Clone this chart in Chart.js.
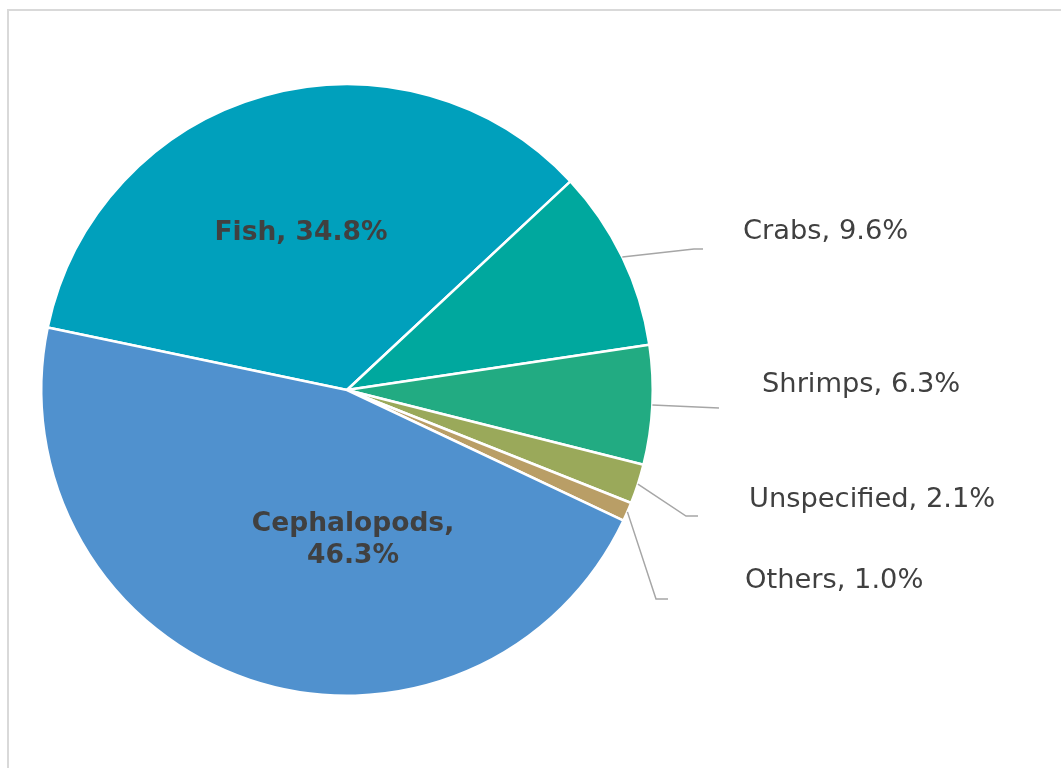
<!DOCTYPE html>
<html>
<head>
<meta charset="utf-8">
<script src="https://cdn.jsdelivr.net/npm/chart.js@4"></script>
<style>
  html, body { margin: 0; padding: 0; background: #ffffff; overflow: hidden; }
  #frame { position: absolute; left: 7px; top: 9px; width: 1100px; height: 800px; border: 2px solid #d9d9d9; box-sizing: border-box; }
  #wrap { position: absolute; left: 0; top: 0; width: 1061px; height: 768px; }
</style>
</head>
<body>
<div id="frame"></div>
<div id="wrap"><canvas id="c" width="1061" height="768"></canvas></div>
<script>
// ---- data ----
const categories = ["Fish", "Crabs", "Shrimps", "Unspecified", "Others", "Cephalopods"];
const shares = [34.8, 9.6, 6.3, 2.1, 1.0, 46.3];
const sliceColors = ["#00A0BC", "#00A89E", "#22AB82", "#9AA95A", "#B99E66", "#5091CE"];

// ---- label layout (offsets from pie centre, px) ----
const outsideLabels = {
  1: { elbow: [347, -141], end: [356, -141], text: [396, -151] },
  2: { elbow: [372, 18], end: [372, 18], text: [415, 2] },
  3: { elbow: [339, 126], end: [351, 126], text: [402, 117] },
  4: { elbow: [309, 209], end: [321, 209], text: [398, 198] }
};
const insideLabels = {
  0: { x: -46, baselines: [-150] },
  5: { x: 6, split: true, baselines: [141, 173] }
};

const FONT = "'DejaVu Sans', sans-serif";
const TEXT_COLOR = "#404040";

function labelText(i) {
  return categories[i] + ", " + shares[i].toFixed(1) + "%";
}

const labelPlugin = {
  id: "pieLabels",
  afterDatasetsDraw(chart) {
    const ctx = chart.ctx;
    const meta = chart.getDatasetMeta(0);
    ctx.save();
    meta.data.forEach((arc, i) => {
      const p = arc.getProps(["x", "y", "startAngle", "endAngle", "outerRadius"], true);
      const cx = p.x, cy = p.y;
      const mid = (p.startAngle + p.endAngle) / 2;
      if (outsideLabels[i]) {
        const L = outsideLabels[i];
        const sx = cx + Math.cos(mid) * p.outerRadius;
        const sy = cy + Math.sin(mid) * p.outerRadius;
        ctx.strokeStyle = "#a6a6a6";
        ctx.lineWidth = 1.5;
        ctx.beginPath();
        ctx.moveTo(sx, sy);
        ctx.lineTo(cx + L.elbow[0], cy + L.elbow[1]);
        ctx.lineTo(cx + L.end[0], cy + L.end[1]);
        ctx.stroke();
        ctx.fillStyle = TEXT_COLOR;
        ctx.font = "27.3px " + FONT;
        ctx.textAlign = "left";
        ctx.textBaseline = "alphabetic";
        ctx.fillText(labelText(i), cx + L.text[0], cy + L.text[1]);
      } else if (insideLabels[i]) {
        const L = insideLabels[i];
        ctx.fillStyle = TEXT_COLOR;
        ctx.font = "bold 26.5px " + FONT;
        ctx.textAlign = "center";
        ctx.textBaseline = "alphabetic";
        if (L.split) {
          ctx.fillText(categories[i] + ",", cx + L.x, cy + L.baselines[0]);
          ctx.fillText(shares[i].toFixed(1) + "%", cx + L.x, cy + L.baselines[1]);
        } else {
          ctx.fillText(labelText(i), cx + L.x, cy + L.baselines[0]);
        }
      }
    });
    ctx.restore();
  }
};

new Chart(document.getElementById("c"), {
  type: "pie",
  data: {
    labels: categories,
    datasets: [{
      data: shares,
      backgroundColor: sliceColors,
      borderColor: "#ffffff",
      borderWidth: 2.5
    }]
  },
  options: {
    responsive: false,
    animation: false,
    rotation: -78.2,
    layout: { padding: { left: 40, top: 83, right: 407, bottom: 71 } },
    plugins: {
      legend: { display: false },
      tooltip: { enabled: false }
    }
  },
  plugins: [labelPlugin]
});
</script>
</body>
</html>
